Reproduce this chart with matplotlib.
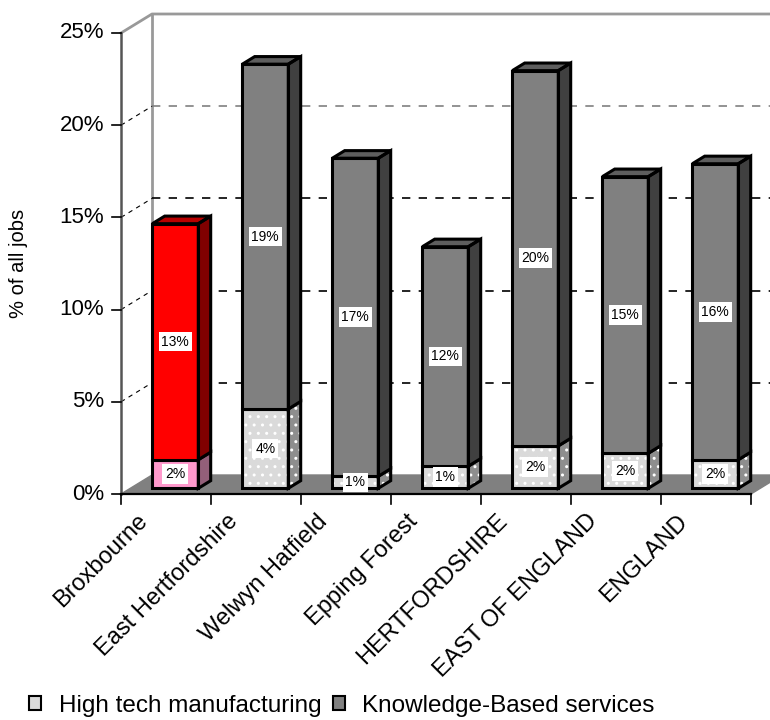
import matplotlib.pyplot as plt
from matplotlib.patches import Polygon, Patch

categories = ['Broxbourne', 'East Hertfordshire', 'Welwyn Hatfield', 'Epping Forest',
              'HERTFORDSHIRE', 'EAST OF ENGLAND', 'ENGLAND']
high_tech = [1.55, 4.3, 0.65, 1.2, 2.3, 1.9, 1.55]
knowledge = [12.8, 18.7, 17.25, 11.9, 20.35, 15.0, 16.05]
y_ticks = [0, 5, 10, 15, 20, 25]
series_names = ['High tech manufacturing', 'Knowledge-Based services']
highlight = 'Broxbourne'

plt.rcParams['font.family'] = ['Liberation Sans', 'DejaVu Sans']
plt.rcParams['hatch.linewidth'] = 1.0
plt.rcParams['hatch.color'] = 'white'

# colours: (front, side, top)
grey_cols = {'ht': ('#dadada', '#8e8e8e', '#bcbcbc'), 'kb': ('#808080', '#404040', '#5e5e5e')}
red_cols = {'ht': ('#ff99cc', '#935f79', '#c07090'), 'kb': ('#ff0000', '#800000', '#b80000')}

fig = plt.figure(figsize=(7.7, 7.2), dpi=100)
ax = fig.add_axes([0, 0, 1, 1])
# x in categories (90 px each), y in percent (18.44 px each)
ax.set_xlim(-121 / 90, (770 - 121) / 90)
ax.set_ylim(-(720 - 494) / 18.44, 494 / 18.44)
ax.axis('off')

n = len(categories)
ymax = y_ticks[-1]
DX, DY = 31 / 90, 19 / 18.44      # depth of the box
f0, f1 = 0.3, 0.7                 # bars sit between these depth fractions
w = 0.511                         # bar width
xr = ax.get_xlim()[1] + 0.1


def dots(pts, z):
    # white speckle texture; hatch colour comes from rcParams when no edge is given
    try:
        p = Polygon(pts, closed=True, fill=False, lw=0, hatch='..', hatchcolor='white', zorder=z)
    except (AttributeError, TypeError):
        p = Polygon(pts, closed=True, fill=False, ec='none', lw=0, hatch='..', zorder=z)
        p._hatch_color = (1, 1, 1, 1)
    ax.add_patch(p)


def poly(pts, fc, z, ec='black', lw=2.2, hatch=False):
    ax.add_patch(Polygon(pts, closed=True, fc=fc, ec='none', lw=0, zorder=z))
    if hatch:
        dots(pts, z + 0.01)
    if ec != 'none':
        ax.add_patch(Polygon(pts, closed=True, fill=False, ec=ec, lw=lw, zorder=z + 0.02,
                             joinstyle='miter'))


# walls and floor
poly([(0, 0), (DX, DY), (DX, ymax + DY), (0, ymax)], 'white', 0, ec='none')
poly([(0, 0), (n, 0), (n + DX, DY), (DX, DY)], '#808080', 0.5, ec='#808080', lw=1)
ax.plot([DX, DX], [DY, ymax + DY], color='#999999', lw=2, zorder=0.6)
ax.plot([0, DX, xr], [ymax, ymax + DY, ymax + DY], color='#999999', lw=2, zorder=0.6)

for v in y_ticks[1:-1]:
    gc = '#808080' if v == 20 else 'black'
    ax.plot([DX, xr], [v + DY, v + DY], color=gc, lw=1.2, ls=(0, (5, 5)), zorder=0.7)
    ax.plot([0, DX], [v, v + DY], color='black', lw=0.8, ls=(0, (4, 4)), zorder=0.7)

# value axis
ax.plot([0, 0], [0, ymax], color='#555555', lw=1.8, zorder=0.8)
for v in y_ticks:
    ax.plot([-0.1, 0], [v, v], color='black', lw=1.2, zorder=0.8)
    ax.text(-0.19, v, f'{v}%', ha='right', va='center', fontsize=16)
ax.text(-1.14, 12.5, '% of all jobs', rotation=90, ha='center', va='center', fontsize=14.5)

# category axis
ax.plot([0, n], [0, 0], color='black', lw=1.6, zorder=0.8)
for i in range(n + 1):
    ax.plot([i, i], [0, -0.55], color='black', lw=1.2, zorder=0.8)
for i, name in enumerate(categories):
    ax.text(i + 0.26, -1.3, name, rotation=45, rotation_mode='anchor',
            ha='right', va='center', fontsize=17)

# 3d stacked bars
bx, by = (f1 - f0) * DX, (f1 - f0) * DY
for i, name in enumerate(categories):
    cols = red_cols if name == highlight else grey_cols
    x0 = i + 0.5 + f0 * DX - w / 2
    x1 = x0 + w
    oy = f0 * DY
    base = 0
    for key, val in (('ht', high_tech[i]), ('kb', knowledge[i])):
        front, side, top = cols[key]
        b, t = base + oy, base + val + oy
        speckle = key == 'ht' and name != highlight
        z = 3 + i * 0.1 + (0.05 if key == 'kb' else 0)
        poly([(x0, b), (x1, b), (x1, t), (x0, t)], front, z, hatch=speckle)
        poly([(x1, b), (x1 + bx, b + by), (x1 + bx, t + by), (x1, t)], side, z, hatch=speckle)
        if key == 'kb':
            poly([(x0, t), (x1, t), (x1 + bx, t + by), (x0 + bx, t + by)], top, z)
        ax.text((x0 + x1) / 2, (b + t) / 2, f'{val:.0f}%', ha='center', va='center',
                fontsize=10, zorder=5,
                bbox=dict(boxstyle='square,pad=0.2', fc='white', ec='none'))
        base += val

handles = [Patch(fc='#dadada', ec='black', lw=1.5),
           Patch(fc='#808080', ec='black', lw=1.5)]
fig.legend(handles, series_names, loc='center left', bbox_to_anchor=(0.016, 0.02),
           ncol=2, frameon=False, fontsize=17.5, handlelength=0.5, handleheight=0.5,
           handletextpad=0.7, columnspacing=0.5, borderpad=0.2)

fig.savefig('out.png', dpi=100)
